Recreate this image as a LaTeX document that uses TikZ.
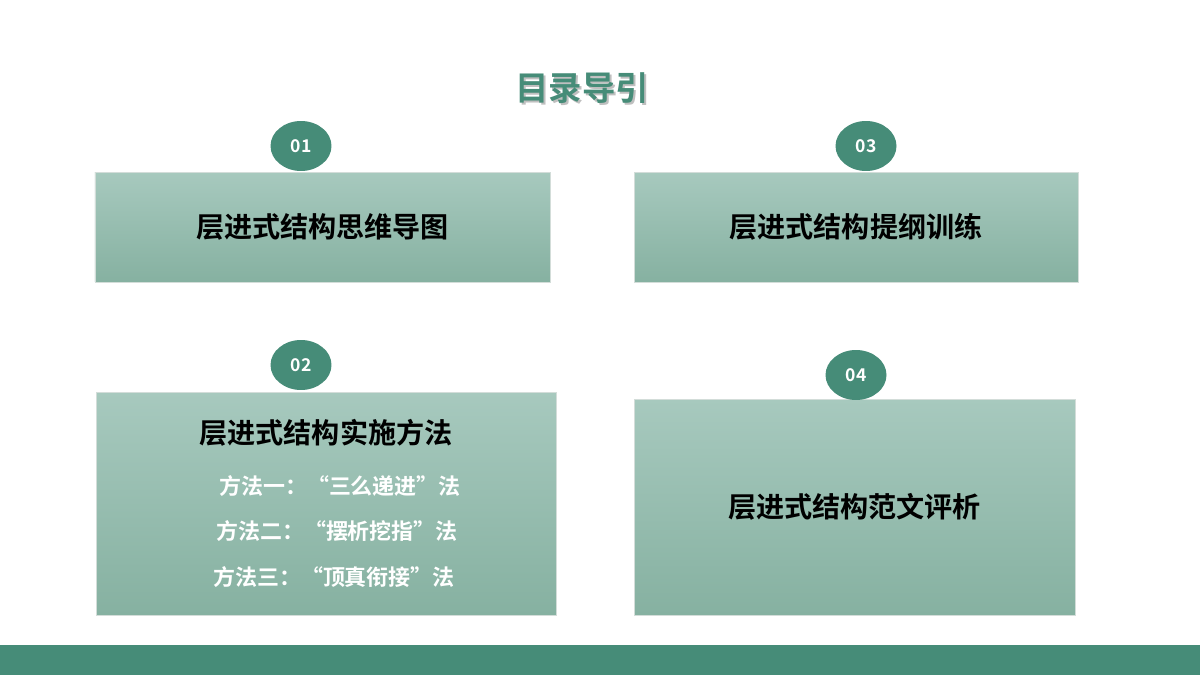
\documentclass[tikz,border=0pt]{standalone}
\usepackage{fontspec}
\newfontfamily\cjk{Noto Sans CJK SC}[BoldFont={Noto Sans CJK SC Bold}]
\usetikzlibrary{positioning,shadows}
\definecolor{deepgreen}{HTML}{468C78}
\definecolor{boxtop}{HTML}{A7C9BE}
\definecolor{boxbot}{HTML}{86B1A1}
\tikzset{
  panel/.style={draw=boxbot!80!black!30, top color=boxtop, bottom color=boxbot, inner sep=0pt},
  badge/.style={ellipse, fill=deepgreen, minimum width=1.22cm, minimum height=1.0cm, inner sep=0pt,
    text=white, font=\cjk\bfseries\fontsize{10}{12}\selectfont},
  heading/.style={font=\cjk\bfseries\fontsize{16}{19}\selectfont, text=black},
  method/.style={font=\cjk\bfseries\fontsize{12.5}{15}\selectfont, text=white}
}
\usetikzlibrary{shapes.geometric}
\begin{document}
\begin{tikzpicture}[x=0.02cm,y=-0.02cm]
  \useasboundingbox (0,0) rectangle (1200,675);
  \fill[white] (0,0) rectangle (1200,675);
  \fill[deepgreen] (0,645) rectangle (1200,675);

  % title
  \node[font=\cjk\bfseries\fontsize{19}{22}\selectfont, text=black!25] at (584,90) {目录导引};
  \node (title) [font=\cjk\bfseries\fontsize{19}{22}\selectfont, text=deepgreen] at (582,88) {目录导引};

  % panels
  \node (p1) [panel, minimum width=455\pgflinewidth/\pgflinewidth*0.02cm, minimum height=2.2cm] at (322.5,227) {};
  \node (p3) [panel, minimum width=8.88cm, minimum height=2.2cm] at (856,227) {};
  \node (p2) [panel, minimum width=9.2cm, minimum height=4.46cm] at (326,503.5) {};
  \node (p4) [panel, minimum width=8.82cm, minimum height=4.32cm] at (854.5,507) {};

  \node (t1) [heading] at (p1) {层进式结构思维导图};
  \node (t3) [heading] at (p3) {层进式结构提纲训练};
  \node (t2) [heading] at (326,433) {层进式结构实施方法};
  \node (t4) [heading] at (p4) {层进式结构范文评析};

  \node (m1) [method] at (340,486) {方法一：“三么递进”法};
  \node (m2) [method] at (337,531) {方法二：“摆析挖指”法};
  \node (m3) [method] at (334,577) {方法三：“顶真衔接”法};

  % badges
  \node (b1) [badge] at (301,146) {01};
  \node (b3) [badge] at (866,146) {03};
  \node (b2) [badge] at (301,365) {02};
  \node (b4) [badge] at (856,375) {04};
\end{tikzpicture}
\end{document}
